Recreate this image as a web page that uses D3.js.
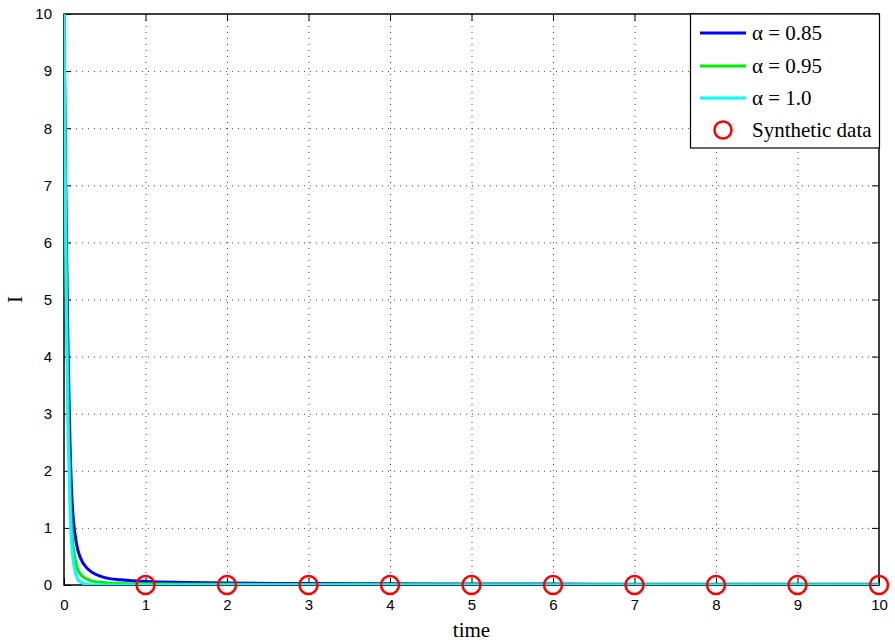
<!DOCTYPE html>
<html>
<head>
<meta charset="utf-8">
<script src="https://cdn.jsdelivr.net/npm/d3@7"></script>
<style>
  body { margin: 0; background: #fff; }
</style>
</head>
<body>
<div id="chart"></div>
<script>
// time samples for the model curves
const times = [0, 0.01, 0.02, 0.03, 0.05, 0.07, 0.1, 0.15, 0.2, 0.3, 0.4, 0.5, 0.7, 1, 1.5, 2, 3, 4, 5, 6, 7, 8, 9, 10];
const alpha085 = [10, 8.6, 7.2, 6.0, 4.1, 2.7, 1.45, 0.75, 0.48, 0.27, 0.18, 0.13, 0.09, 0.06, 0.045, 0.035, 0.026, 0.021, 0.018, 0.016, 0.014, 0.013, 0.012, 0.011];
const alpha095 = [10, 8.2, 6.5, 5.1, 3.0, 1.8, 0.85, 0.36, 0.19, 0.09, 0.055, 0.04, 0.028, 0.02, 0.015, 0.012, 0.009, 0.007, 0.006, 0.005, 0.005, 0.004, 0.004, 0.004];
const alpha100 = [10, 7.9, 6.1, 4.7, 2.7, 1.5, 0.6, 0.17, 0.05, 0.01, 0.004, 0.002, 0.001, 0, 0, 0, 0, 0, 0, 0, 0, 0, 0, 0];
// synthetic observations
const dataTimes = [1, 2, 3, 4, 5, 6, 7, 8, 9, 10];
const dataValues = [0, 0, 0, 0, 0, 0, 0, 0, 0, 0];

const series = [
  {label: "α = 0.85", color: "#0000ff", values: alpha085},
  {label: "α = 0.95", color: "#00ee00", values: alpha095},
  {label: "α = 1.0", color: "#00ffff", values: alpha100}
];

const width = 895, height = 644;
const margin = {top: 14, right: 16, bottom: 59, left: 64};

const svg = d3.select("#chart").append("svg")
  .attr("width", width)
  .attr("height", height);

const x = d3.scaleLinear().domain([0, 10]).range([margin.left, width - margin.right]);
const y = d3.scaleLinear().domain([0, 10]).range([height - margin.bottom, margin.top]);

svg.append("clipPath").attr("id", "clip")
  .append("rect")
  .attr("x", margin.left).attr("y", margin.top)
  .attr("width", x(10) - x(0)).attr("height", y(0) - y(10));

// grid
const grid = svg.append("g")
  .attr("stroke", "#444")
  .attr("stroke-width", 1)
  .attr("stroke-dasharray", "1,5");
grid.selectAll(".vg").data(d3.range(1, 10)).join("line")
  .attr("x1", d => x(d) + 0.5).attr("x2", d => x(d) + 0.5)
  .attr("y1", y(10)).attr("y2", y(0));
grid.selectAll(".hg").data(d3.range(1, 10)).join("line")
  .attr("y1", d => y(d) + 0.5).attr("y2", d => y(d) + 0.5)
  .attr("x1", x(0)).attr("x2", x(10));

// axes (ticks pointing inward, mirrored)
const tickFont = "'Liberation Sans', Arial, sans-serif";
svg.append("g")
  .attr("transform", `translate(0,${y(0)})`)
  .call(d3.axisBottom(x).ticks(10).tickSizeInner(-7).tickSizeOuter(0).tickPadding(14));
svg.append("g")
  .attr("transform", `translate(${x(0)},0)`)
  .call(d3.axisLeft(y).ticks(10).tickSizeInner(-7).tickSizeOuter(0).tickPadding(12));
svg.append("g")
  .attr("transform", `translate(0,${y(10)})`)
  .call(d3.axisTop(x).ticks(10).tickSizeInner(-7).tickSizeOuter(0).tickFormat(""));
svg.append("g")
  .attr("transform", `translate(${x(10)},0)`)
  .call(d3.axisRight(y).ticks(10).tickSizeInner(-7).tickSizeOuter(0).tickFormat(""));
svg.selectAll(".domain").remove();
svg.selectAll(".tick line").attr("stroke", "#000");
svg.selectAll(".tick text")
  .style("font-family", tickFont)
  .style("font-size", "15px")
  .attr("fill", "#000");

// frame
svg.append("rect")
  .attr("x", x(0)).attr("y", y(10))
  .attr("width", x(10) - x(0)).attr("height", y(0) - y(10))
  .attr("fill", "none").attr("stroke", "#000").attr("stroke-width", 1.5);

// curves
const line = d3.line()
  .x((d, i) => x(times[i]))
  .y(d => y(d))
  .curve(d3.curveMonotoneX);
svg.append("g").attr("clip-path", "url(#clip)")
  .selectAll("path").data(series).join("path")
  .attr("d", d => line(d.values))
  .attr("fill", "none")
  .attr("stroke", d => d.color)
  .attr("stroke-width", 3);

// synthetic data markers
svg.append("g").selectAll("circle").data(dataTimes).join("circle")
  .attr("cx", d => x(d))
  .attr("cy", (d, i) => y(dataValues[i]))
  .attr("r", 9)
  .attr("fill", "none")
  .attr("stroke", "#ff0000")
  .attr("stroke-width", 2.5);

// axis labels
const serif = "'Liberation Serif', 'Times New Roman', serif";
svg.append("text")
  .attr("x", (x(0) + x(10)) / 2)
  .attr("y", 637)
  .attr("text-anchor", "middle")
  .style("font-family", serif)
  .style("font-size", "21px")
  .text("time");
svg.append("text")
  .attr("transform", `translate(22,${(y(0) + y(10)) / 2}) rotate(-90)`)
  .attr("text-anchor", "middle")
  .style("font-family", serif)
  .style("font-size", "21px")
  .text("I");

// legend
const lg = svg.append("g");
lg.append("rect")
  .attr("x", 690.5).attr("y", 14)
  .attr("width", 189).attr("height", 134)
  .attr("fill", "#fff").attr("stroke", "#000").attr("stroke-width", 1.2);
const rows = series.map(s => ({label: s.label, color: s.color, type: "line"}))
  .concat([{label: "Synthetic data", color: "#ff0000", type: "circle"}]);
const rowY = [33, 66, 98, 130];
rows.forEach((r, i) => {
  if (r.type === "line") {
    lg.append("line")
      .attr("x1", 700).attr("x2", 746)
      .attr("y1", rowY[i]).attr("y2", rowY[i])
      .attr("stroke", r.color).attr("stroke-width", 3);
  } else {
    lg.append("circle")
      .attr("cx", 723).attr("cy", rowY[i]).attr("r", 8.5)
      .attr("fill", "none").attr("stroke", r.color).attr("stroke-width", 2.5);
  }
  lg.append("text")
    .attr("x", 752).attr("y", rowY[i] + 7)
    .style("font-family", serif)
    .style("font-size", "21px")
    .text(r.label);
});
</script>
</body>
</html>
